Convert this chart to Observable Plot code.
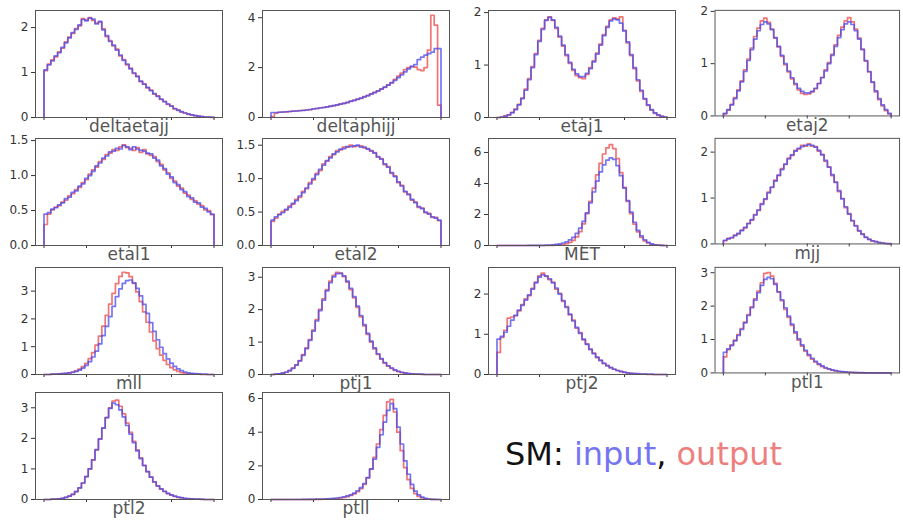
<!DOCTYPE html>
<html>
<head>
<meta charset="utf-8">
<script src="https://cdn.jsdelivr.net/npm/d3@7"></script>
<script src="https://cdn.jsdelivr.net/npm/@observablehq/plot@0.6"></script>
<style>
  html, body { margin: 0; padding: 0; background: #fff; }
  #root { position: relative; width: 903px; height: 523px; overflow: hidden; background: #fff; }
  .panel { position: absolute; }
  .legend { position: absolute; left: 505px; top: 438px; font-family: "DejaVu Sans", sans-serif; font-size: 32px; line-height: 32px; white-space: nowrap; color: #111; }
</style>
</head>
<body>
<div id="root"></div>
<script>
// ---- data (50 bins over a normalised [0, 1] range per variable) ----
const names = ["deltaetajj","deltaphijj","etaj1","etaj2","etal1","etal2","MET","mjj","mll","ptj1","ptj2","ptl1","ptl2","ptll"];

const deltaetajjInput = [1.06,1.17,1.26,1.37,1.44,1.56,1.66,1.77,1.89,1.96,2.06,2.18,2.15,2.21,2.19,2.08,2.14,1.95,1.82,1.69,1.61,1.50,1.39,1.27,1.19,1.08,0.99,0.91,0.81,0.74,0.67,0.60,0.53,0.47,0.41,0.35,0.30,0.25,0.20,0.16,0.13,0.10,0.08,0.06,0.04,0.03,0.02,0.01,0.01,0.01];
const deltaetajjOutput = [1.04,1.19,1.28,1.35,1.46,1.54,1.68,1.79,1.87,1.98,2.04,2.20,2.17,2.22,2.16,2.10,2.12,1.97,1.80,1.71,1.59,1.52,1.37,1.29,1.17,1.10,0.98,0.92,0.80,0.75,0.66,0.61,0.52,0.48,0.40,0.36,0.29,0.26,0.19,0.17,0.12,0.10,0.07,0.06,0.04,0.03,0.02,0.01,0.01,0.00];

const deltaphijjInput = [0.20,0.20,0.21,0.22,0.23,0.24,0.25,0.26,0.27,0.28,0.30,0.32,0.34,0.36,0.38,0.40,0.43,0.45,0.48,0.51,0.54,0.57,0.61,0.65,0.69,0.73,0.78,0.83,0.88,0.94,1.00,1.07,1.14,1.22,1.30,1.39,1.49,1.60,1.71,1.83,1.95,2.05,2.12,2.32,2.42,2.50,2.56,2.62,2.76,2.76];
const deltaphijjOutput = [0.04,0.17,0.21,0.22,0.22,0.24,0.26,0.26,0.28,0.29,0.30,0.31,0.35,0.36,0.39,0.40,0.42,0.46,0.48,0.50,0.55,0.57,0.60,0.66,0.69,0.74,0.77,0.84,0.88,0.95,1.01,1.06,1.15,1.21,1.31,1.40,1.53,1.66,1.78,1.92,2.00,2.04,2.02,1.92,1.88,2.00,2.70,4.10,3.70,0.50];

const etaj1Input = [0.00,0.01,0.02,0.05,0.09,0.15,0.24,0.36,0.52,0.72,0.95,1.20,1.45,1.68,1.85,1.91,1.86,1.72,1.55,1.38,1.20,1.05,0.92,0.83,0.78,0.78,0.84,0.93,1.06,1.21,1.38,1.56,1.72,1.84,1.88,1.86,1.80,1.65,1.44,1.20,0.95,0.72,0.52,0.36,0.24,0.15,0.09,0.05,0.02,0.01];
const etaj1Output = [0.00,0.01,0.03,0.05,0.10,0.16,0.25,0.37,0.54,0.74,0.97,1.22,1.47,1.70,1.86,1.92,1.85,1.70,1.53,1.36,1.18,1.03,0.90,0.80,0.76,0.74,0.82,0.95,1.08,1.23,1.40,1.58,1.74,1.86,1.90,1.88,1.92,1.66,1.42,1.18,0.93,0.70,0.50,0.35,0.23,0.14,0.08,0.04,0.02,0.01];

const etaj2Input = [0.05,0.12,0.21,0.33,0.48,0.65,0.85,1.06,1.27,1.47,1.63,1.75,1.80,1.76,1.65,1.50,1.33,1.16,1.00,0.86,0.73,0.62,0.53,0.47,0.44,0.44,0.47,0.53,0.62,0.73,0.86,1.00,1.16,1.33,1.50,1.65,1.76,1.80,1.75,1.63,1.47,1.27,1.06,0.85,0.65,0.48,0.33,0.21,0.12,0.05];
const etaj2Output = [0.04,0.11,0.22,0.35,0.50,0.67,0.88,1.09,1.30,1.52,1.68,1.82,1.87,1.79,1.66,1.49,1.32,1.14,0.98,0.84,0.71,0.60,0.50,0.43,0.41,0.42,0.46,0.52,0.62,0.74,0.88,1.02,1.18,1.36,1.54,1.70,1.82,1.88,1.80,1.66,1.49,1.28,1.05,0.84,0.64,0.46,0.31,0.19,0.10,0.04];

const etal1Input = [0.45,0.47,0.52,0.54,0.58,0.61,0.67,0.69,0.76,0.78,0.85,0.88,0.96,1.00,1.06,1.14,1.18,1.25,1.28,1.34,1.35,1.39,1.38,1.43,1.41,1.37,1.41,1.38,1.36,1.35,1.32,1.31,1.25,1.22,1.14,1.10,1.02,0.98,0.90,0.87,0.80,0.77,0.70,0.68,0.62,0.61,0.55,0.53,0.48,0.45];
const etal1Output = [0.30,0.45,0.51,0.55,0.57,0.62,0.65,0.71,0.74,0.80,0.83,0.90,0.94,1.02,1.08,1.12,1.20,1.23,1.30,1.32,1.37,1.36,1.41,1.44,1.40,1.39,1.36,1.40,1.33,1.37,1.31,1.29,1.27,1.20,1.16,1.08,1.04,0.96,0.92,0.85,0.82,0.75,0.72,0.66,0.64,0.59,0.57,0.51,0.50,0.44];

const etal2Input = [0.38,0.43,0.46,0.49,0.54,0.57,0.63,0.67,0.74,0.79,0.86,0.92,1.00,1.06,1.14,1.20,1.27,1.31,1.37,1.40,1.44,1.45,1.48,1.48,1.49,1.50,1.47,1.47,1.44,1.42,1.38,1.33,1.29,1.22,1.17,1.09,1.03,0.95,0.89,0.81,0.76,0.69,0.64,0.58,0.55,0.50,0.47,0.43,0.41,0.38];
const etal2Output = [0.36,0.41,0.47,0.51,0.53,0.59,0.62,0.69,0.72,0.81,0.85,0.94,0.98,1.08,1.12,1.22,1.26,1.33,1.36,1.42,1.43,1.47,1.47,1.50,1.48,1.49,1.49,1.46,1.45,1.41,1.39,1.32,1.30,1.21,1.18,1.08,1.04,0.94,0.90,0.80,0.77,0.68,0.65,0.57,0.56,0.49,0.48,0.42,0.42,0.37];

const metInput = [0.00,0.00,0.00,0.00,0.00,0.00,0.00,0.00,0.00,0.01,0.01,0.01,0.01,0.01,0.02,0.03,0.05,0.07,0.11,0.16,0.24,0.36,0.53,0.78,1.12,1.55,2.10,2.75,3.45,4.15,4.75,5.20,5.50,5.65,5.55,5.15,4.50,3.70,2.90,2.15,1.50,0.98,0.62,0.37,0.20,0.11,0.05,0.02,0.01,0.00];
const metOutput = [0.00,0.00,0.00,0.00,0.00,0.00,0.00,0.00,0.00,0.00,0.00,0.00,0.00,0.00,0.00,0.01,0.01,0.02,0.04,0.07,0.12,0.20,0.33,0.55,0.90,1.40,2.05,2.85,3.70,4.55,5.30,5.90,6.30,6.50,6.25,5.60,4.70,3.75,2.85,2.05,1.38,0.88,0.52,0.30,0.16,0.08,0.04,0.02,0.01,0.00];

const mjjInput = [0.08,0.11,0.14,0.18,0.23,0.29,0.36,0.44,0.53,0.63,0.74,0.86,0.98,1.11,1.24,1.37,1.50,1.62,1.74,1.85,1.94,2.02,2.08,2.12,2.15,2.16,2.15,2.11,2.04,1.94,1.82,1.67,1.51,1.34,1.16,0.98,0.81,0.65,0.51,0.39,0.29,0.21,0.15,0.10,0.07,0.05,0.03,0.02,0.01,0.01];
const mjjOutput = [0.07,0.12,0.13,0.19,0.22,0.30,0.35,0.45,0.52,0.64,0.73,0.88,0.97,1.13,1.23,1.39,1.49,1.64,1.73,1.87,1.93,2.04,2.07,2.15,2.13,2.18,2.13,2.12,2.02,1.95,1.80,1.68,1.49,1.35,1.14,0.99,0.79,0.66,0.50,0.40,0.28,0.22,0.14,0.10,0.06,0.05,0.03,0.02,0.01,0.00];

const mllInput = [0.00,0.00,0.01,0.01,0.02,0.03,0.04,0.06,0.08,0.11,0.16,0.23,0.33,0.46,0.63,0.84,1.10,1.40,1.73,2.08,2.45,2.80,3.08,3.28,3.38,3.40,3.30,3.10,2.83,2.52,2.20,1.87,1.55,1.25,0.98,0.75,0.56,0.41,0.29,0.20,0.14,0.09,0.06,0.04,0.03,0.02,0.01,0.01,0.00,0.00];
const mllOutput = [0.00,0.00,0.01,0.01,0.02,0.03,0.04,0.06,0.09,0.13,0.19,0.28,0.40,0.57,0.79,1.06,1.38,1.74,2.13,2.53,2.92,3.27,3.53,3.68,3.66,3.52,3.28,2.97,2.62,2.25,1.88,1.53,1.21,0.93,0.70,0.51,0.36,0.25,0.17,0.11,0.07,0.05,0.03,0.02,0.01,0.01,0.00,0.00,0.00,0.00];

const ptj1Input = [0.00,0.01,0.02,0.04,0.07,0.12,0.19,0.29,0.42,0.59,0.80,1.05,1.34,1.65,1.97,2.29,2.58,2.83,3.01,3.11,3.12,3.04,2.88,2.66,2.40,2.11,1.82,1.54,1.27,1.03,0.82,0.64,0.49,0.37,0.27,0.20,0.14,0.10,0.07,0.05,0.03,0.02,0.01,0.01,0.01,0.00,0.00,0.00,0.00,0.00];
const ptj1Output = [0.00,0.01,0.02,0.04,0.07,0.12,0.20,0.30,0.43,0.61,0.82,1.08,1.37,1.69,2.01,2.33,2.62,2.88,3.06,3.15,3.13,3.02,2.85,2.62,2.36,2.07,1.78,1.50,1.24,1.00,0.79,0.62,0.47,0.35,0.26,0.19,0.13,0.09,0.06,0.04,0.03,0.02,0.01,0.01,0.00,0.00,0.00,0.00,0.00,0.00];

const ptj2Input = [0.88,0.95,1.05,1.20,1.35,1.47,1.60,1.72,1.85,1.98,2.12,2.28,2.42,2.48,2.45,2.38,2.28,2.15,2.00,1.84,1.67,1.50,1.33,1.17,1.02,0.88,0.75,0.63,0.52,0.43,0.35,0.28,0.22,0.17,0.13,0.10,0.08,0.06,0.04,0.03,0.02,0.02,0.01,0.01,0.01,0.01,0.00,0.00,0.00,0.00];
const ptj2Output = [0.55,0.92,1.10,1.40,1.43,1.46,1.58,1.74,1.88,1.96,2.14,2.30,2.45,2.52,2.44,2.36,2.30,2.12,2.02,1.82,1.69,1.48,1.35,1.15,1.04,0.86,0.76,0.62,0.53,0.42,0.35,0.27,0.22,0.17,0.13,0.10,0.07,0.05,0.04,0.03,0.02,0.01,0.01,0.01,0.00,0.00,0.00,0.00,0.00,0.00];

const ptl1Input = [0.62,0.72,0.82,0.96,1.12,1.30,1.50,1.72,1.95,2.18,2.40,2.62,2.80,2.86,2.82,2.65,2.43,2.19,1.95,1.70,1.46,1.23,1.02,0.84,0.68,0.55,0.44,0.35,0.27,0.21,0.16,0.12,0.09,0.07,0.05,0.04,0.03,0.02,0.02,0.01,0.01,0.01,0.00,0.00,0.00,0.00,0.00,0.00,0.00,0.00];
const ptl1Output = [0.48,0.70,0.84,0.98,1.15,1.33,1.52,1.75,1.98,2.22,2.45,2.70,2.98,3.00,2.90,2.68,2.42,2.16,1.90,1.66,1.42,1.19,0.98,0.80,0.65,0.52,0.41,0.32,0.25,0.19,0.14,0.11,0.08,0.06,0.04,0.03,0.02,0.02,0.01,0.01,0.00,0.00,0.00,0.00,0.00,0.00,0.00,0.00,0.00,0.00];

const ptl2Input = [0.00,0.00,0.01,0.01,0.02,0.04,0.07,0.11,0.17,0.26,0.38,0.54,0.75,1.00,1.30,1.63,1.98,2.34,2.68,2.98,3.15,3.10,2.93,2.70,2.42,2.14,1.86,1.59,1.34,1.11,0.91,0.73,0.58,0.45,0.35,0.27,0.20,0.15,0.11,0.08,0.06,0.04,0.03,0.02,0.01,0.01,0.01,0.00,0.00,0.00];
const ptl2Output = [0.00,0.00,0.01,0.01,0.02,0.04,0.07,0.11,0.17,0.26,0.38,0.54,0.75,1.00,1.29,1.62,1.97,2.33,2.68,3.00,3.22,3.25,3.05,2.80,2.50,2.20,1.90,1.62,1.36,1.12,0.91,0.73,0.57,0.44,0.34,0.26,0.19,0.14,0.10,0.07,0.05,0.03,0.02,0.02,0.01,0.01,0.00,0.00,0.00,0.00];

const ptllInput = [0.00,0.00,0.00,0.00,0.00,0.00,0.00,0.00,0.00,0.01,0.01,0.01,0.01,0.02,0.02,0.03,0.04,0.05,0.07,0.09,0.12,0.16,0.21,0.28,0.38,0.52,0.70,0.95,1.30,1.80,2.40,3.10,3.85,4.60,5.30,5.70,5.40,4.30,3.30,2.30,1.50,0.90,0.50,0.27,0.14,0.07,0.03,0.01,0.01,0.00];
const ptllOutput = [0.00,0.00,0.00,0.00,0.00,0.00,0.00,0.00,0.00,0.00,0.00,0.01,0.01,0.01,0.01,0.02,0.02,0.03,0.04,0.06,0.09,0.12,0.17,0.24,0.33,0.46,0.64,0.90,1.28,1.82,2.50,3.30,4.15,5.00,5.80,5.95,5.20,4.00,2.90,1.90,1.18,0.66,0.35,0.18,0.09,0.04,0.02,0.01,0.00,0.00];

const inputs  = [deltaetajjInput, deltaphijjInput, etaj1Input, etaj2Input, etal1Input, etal2Input, metInput, mjjInput, mllInput, ptj1Input, ptj2Input, ptl1Input, ptl2Input, ptllInput];
const outputs = [deltaetajjOutput, deltaphijjOutput, etaj1Output, etaj2Output, etal1Output, etal2Output, metOutput, mjjOutput, mllOutput, ptj1Output, ptj2Output, ptl1Output, ptl2Output, ptllOutput];

// y-axis ranges and tick labels per panel
const yMax   = [2.38, 4.29, 2.04, 2.02, 1.53, 1.60, 6.9, 2.30, 3.85, 3.30, 2.66, 3.16, 3.50, 6.36];
const yTicks = [[0,1,2],[0,2,4],[0,1,2],[0,1,2],[0,0.5,1,1.5],[0,0.5,1,1.5],[0,2,4,6],[0,1,2],[0,1,2,3],[0,1,2,3],[0,1,2],[0,1,2,3],[0,1,2,3],[0,2,4,6]];
const xTicks = [0, 0.25, 0.5, 0.75, 1];

// ---- drawing ----
function stepPoints(vals) {
  const n = vals.length;
  const pts = [{x: 0, y: 0}];
  vals.forEach((v, i) => pts.push({x: i / n, y: v}));
  pts.push({x: 1, y: vals[n - 1]});
  pts.push({x: 1, y: 0});
  return pts;
}

const root = document.getElementById("root");
const colLeft = [0, 227, 453, 680];
const rowTop = [0, 128, 257, 382];
const ML = 35, MT = 10, FW = 187, FH = 107, MB = 26, MR = 4;

names.forEach((name, k) => {
  const col = k % 4, row = Math.floor(k / 4);
  const decimals = yTicks[k].some(t => t % 1 !== 0);
  const chart = Plot.plot({
    width: ML + FW + MR,
    height: MT + FH + MB,
    marginLeft: ML, marginRight: MR, marginTop: MT, marginBottom: MB,
    style: {background: "transparent", overflow: "visible", fontFamily: "DejaVu Sans, sans-serif", fontSize: "12px", color: "#333"},
    x: {domain: [-0.05, 1.05], ticks: xTicks, tickFormat: () => "", tickSize: 3, label: null},
    y: {domain: [0, yMax[k]], ticks: yTicks[k], tickFormat: decimals ? d3.format(".1f") : d3.format("d"), tickSize: 4, tickPadding: 3, label: null},
    marks: [
      Plot.line(stepPoints(outputs[k]), {x: "x", y: "y", curve: "step-after", stroke: "#ee6666", strokeOpacity: 0.9, strokeWidth: 1.7}),
      Plot.line(stepPoints(inputs[k]), {x: "x", y: "y", curve: "step-after", stroke: "#4848ee", strokeOpacity: 0.75, strokeWidth: 1.7}),
      Plot.frame({stroke: "#555", strokeWidth: 1}),
      Plot.text([name], {frameAnchor: "bottom", lineAnchor: "middle", dy: 9.5, text: d => d, fontSize: 17, fill: "#555"})
    ]
  });
  const div = document.createElement("div");
  div.className = "panel";
  div.style.left = colLeft[col] + "px";
  div.style.top = rowTop[row] + "px";
  div.appendChild(chart);
  root.appendChild(div);
});

const legend = document.createElement("div");
legend.className = "legend";
legend.innerHTML = 'SM: <span style="color:#7575f2">input</span>, <span style="color:#ee7f7f">output</span>';
root.appendChild(legend);
</script>
</body>
</html>
